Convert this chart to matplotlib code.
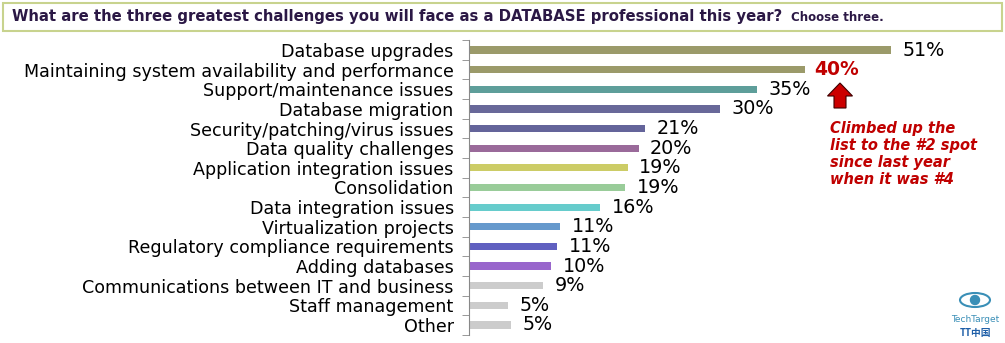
import matplotlib.pyplot as plt
from matplotlib.patches import Rectangle, FancyArrow, Ellipse

# survey answers, top to bottom
categories = ['Database upgrades',
              'Maintaining system availability and performance',
              'Support/maintenance issues',
              'Database migration',
              'Security/patching/virus issues',
              'Data quality challenges',
              'Application integration issues',
              'Consolidation',
              'Data integration issues',
              'Virtualization projects',
              'Regulatory compliance requirements',
              'Adding databases',
              'Communications between IT and business',
              'Staff management',
              'Other']
values = [51, 40.6, 34.8, 30.4, 21.3, 20.5, 19.2, 18.9, 15.9, 11.0, 10.7, 9.9, 9.0, 4.7, 5.1]
value_labels = ['51%', '40%', '35%', '30%', '21%', '20%', '19%', '19%', '16%',
                '11%', '11%', '10%', '9%', '5%', '5%']
bar_colors = ['#9B9A6A', '#9B9A6A', '#5E9E9A', '#686899', '#64649A', '#9A6A9A',
              '#CCCC66', '#99CC99', '#66CCCC', '#6699CC', '#6060C0', '#9966CC',
              '#CCCCCC', '#CCCCCC', '#CCCCCC']

W, H = 1005, 343
fig = plt.figure(figsize=(W / 100, H / 100), dpi=100)

# title box
fig.patches.append(Rectangle((3 / W, 1 - 31 / H), 999 / W, 28 / H, transform=fig.transFigure,
                             fill=False, edgecolor='#C8D38E', linewidth=1.5))
fig.text(12 / W, 1 - 17 / H, 'What are the three greatest challenges you will face as a DATABASE professional this year?',
         fontsize=10.7, fontweight='bold', color='#2B1845', va='center', ha='left')
fig.text(791 / W, 1 - 17.5 / H, 'Choose three.', fontsize=8.5, fontweight='bold',
         color='#2B1845', va='center', ha='left')

left, right = 469, 1005
top, bottom = 40.2, 334.8
ax = fig.add_axes([left / W, 1 - bottom / H, (right - left) / W, (bottom - top) / H])
pos = list(range(len(categories)))
ax.barh(pos, values, height=0.37, color=bar_colors)
ax.set_xlim(0, (right - left) / 8.27)
ax.set_ylim(len(categories) - 0.5, -0.5)

ax.set_yticks(pos)
ax.set_yticklabels(categories, fontsize=12.6)
ax.tick_params(axis='y', which='major', length=0, pad=11)
ax.set_yticks([p - 0.5 for p in pos] + [len(pos) - 0.5], minor=True)
ax.tick_params(axis='y', which='minor', length=5, color='#888888')
ax.set_xticks([])
for s in ['top', 'right', 'bottom']:
    ax.spines[s].set_visible(False)
ax.spines['left'].set_color('#888888')

for i, (v, lab) in enumerate(zip(values, value_labels)):
    if i == 1:
        ax.text(v + 1.2, i, lab, va='center', ha='left', fontsize=13.5,
                fontweight='bold', color='#C00000')
    else:
        ax.text(v + 1.4, i, lab, va='center', ha='left', fontsize=13.8, color='black')

# annotation arrow and note
fig.patches.append(FancyArrow(840 / W, 1 - 108 / H, 0, 25 / H, width=12 / W,
                              head_width=25 / W, head_length=13 / H, length_includes_head=True,
                              transform=fig.transFigure, facecolor='#CC0000',
                              edgecolor='#400000', linewidth=0.8))
fig.text(830 / W, 1 - 121 / H, 'Climbed up the\nlist to the #2 spot\nsince last year\nwhen it was #4',
         fontsize=10.5, fontweight='bold', fontstyle='italic', color='#C00000',
         va='top', ha='left', linespacing=1.17)

# logo
fig.patches.append(Ellipse((975 / W, 1 - 300 / H), 30 / W, 14 / H, transform=fig.transFigure,
                           fill=False, edgecolor='#3A8FB7', linewidth=1.5))
fig.patches.append(Ellipse((975 / W, 1 - 300 / H), 9 / W, 9 / H, transform=fig.transFigure,
                           color='#3A8FB7'))
fig.text(975 / W, 1 - 319 / H, 'TechTarget', fontsize=6.5, color='#3A8FB7',
         ha='center', va='center')
fig.text(975 / W, 1 - 333 / H, 'TT中国', fontsize=7, fontweight='bold', color='#1F5FA8',
         ha='center', va='center', family=['Noto Sans CJK SC', 'DejaVu Sans'])

fig.savefig('out.png', dpi=100)
